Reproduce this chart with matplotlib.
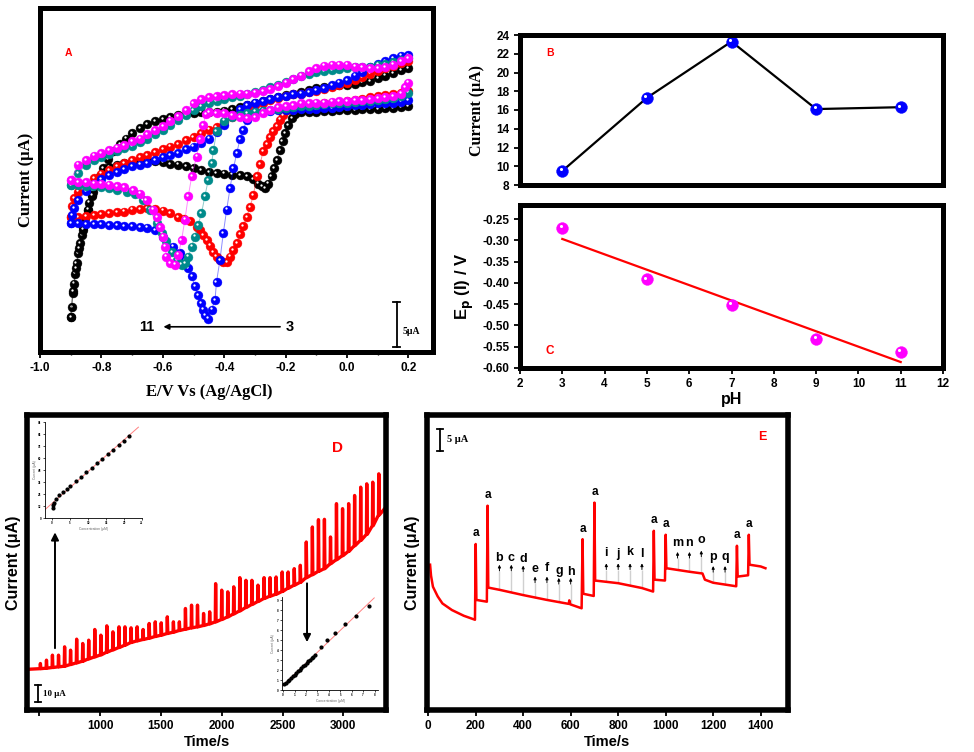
import numpy as np
import matplotlib.pyplot as plt
from matplotlib.ticker import FormatStrFormatter, AutoMinorLocator
from matplotlib.transforms import offset_copy

plt.rcParams['font.family'] = ['Liberation Sans', 'DejaVu Sans']
plt.rcParams['font.weight'] = 'bold'
plt.rcParams['axes.labelweight'] = 'bold'
plt.rcParams['mathtext.default'] = 'bf'

SERIF = ['Liberation Serif', 'DejaVu Serif']

# ---------------- Panel A: cyclic voltammograms (E in V, I in uA, arbitrary offset)
# forward = scan from -0.9 V to 0.2 V, reverse = back from 0.2 V to -0.9 V
black_fwd = [(-0.900, 3.9), (-0.897, 5.0), (-0.894, 6.5), (-0.890, 7.6), (-0.886, 8.7), (-0.881, 9.9),
             (-0.876, 11.0), (-0.870, 12.1), (-0.864, 13.0), (-0.859, 13.9), (-0.852, 14.9), (-0.845, 15.8),
             (-0.839, 16.6), (-0.832, 17.3), (-0.826, 17.8), (-0.816, 18.6), (-0.805, 19.5), (-0.794, 20.4),
             (-0.778, 21.4), (-0.760, 22.3), (-0.740, 23.1), (-0.720, 23.7), (-0.700, 24.3), (-0.675, 24.9),
             (-0.650, 25.3), (-0.625, 25.6), (-0.600, 25.9), (-0.575, 26.1), (-0.550, 26.3), (-0.525, 26.4),
             (-0.500, 26.5), (-0.475, 26.6), (-0.450, 26.7), (-0.425, 26.7), (-0.400, 26.8), (-0.375, 27.0),
             (-0.350, 27.2), (-0.325, 27.4), (-0.300, 27.6), (-0.275, 27.9), (-0.250, 28.1), (-0.225, 28.3),
             (-0.200, 28.5), (-0.175, 28.7), (-0.150, 28.9), (-0.125, 29.1), (-0.100, 29.3), (-0.075, 29.4),
             (-0.050, 29.5), (-0.025, 29.6), (0.000, 29.7), (0.025, 29.8), (0.050, 30.0), (0.075, 30.1),
             (0.100, 30.4), (0.125, 30.7), (0.150, 31.0), (0.175, 31.3), (0.200, 31.5)]
black_rev = [(0.200, 27.3), (0.175, 27.2), (0.150, 27.1), (0.125, 27.1), (0.100, 27.0), (0.075, 27.0),
             (0.050, 27.0), (0.025, 26.9), (0.000, 26.9), (-0.025, 26.9), (-0.050, 26.8), (-0.075, 26.8),
             (-0.100, 26.7), (-0.125, 26.7), (-0.150, 26.6), (-0.170, 26.4), (-0.180, 26.0), (-0.191, 25.2),
             (-0.202, 24.3), (-0.210, 23.4), (-0.218, 22.4), (-0.229, 21.3), (-0.238, 20.4), (-0.246, 19.5),
             (-0.256, 18.7), (-0.267, 18.2), (-0.278, 18.4), (-0.289, 18.7), (-0.305, 19.2), (-0.325, 19.5),
             (-0.350, 19.6), (-0.375, 19.7), (-0.400, 19.8), (-0.425, 19.9), (-0.450, 20.0), (-0.475, 20.2),
             (-0.500, 20.4), (-0.525, 20.6), (-0.550, 20.8), (-0.575, 20.9), (-0.600, 21.1), (-0.625, 21.2),
             (-0.650, 21.3), (-0.675, 21.2), (-0.700, 21.1), (-0.725, 21.0), (-0.750, 20.8), (-0.775, 20.5),
             (-0.795, 19.8), (-0.815, 18.6), (-0.830, 17.4), (-0.845, 15.8), (-0.860, 13.6), (-0.872, 11.5),
             (-0.882, 9.3), (-0.892, 6.8), (-0.900, 3.9)]
red_fwd = [(-0.900, 15.0), (-0.895, 16.2), (-0.890, 17.1), (-0.875, 17.8), (-0.850, 18.7), (-0.825, 19.3),
           (-0.800, 19.8), (-0.775, 20.2), (-0.750, 20.6), (-0.725, 21.0), (-0.700, 21.3), (-0.675, 21.6),
           (-0.650, 21.9), (-0.625, 22.2), (-0.600, 22.5), (-0.575, 22.8), (-0.550, 23.1), (-0.525, 23.5),
           (-0.500, 23.9), (-0.475, 24.3), (-0.450, 24.7), (-0.425, 25.0), (-0.400, 25.5), (-0.375, 26.1),
           (-0.350, 26.6), (-0.325, 27.1), (-0.300, 27.4), (-0.275, 27.7), (-0.250, 28.0), (-0.225, 28.2),
           (-0.200, 28.4), (-0.175, 28.6), (-0.150, 28.7), (-0.125, 28.9), (-0.100, 29.0), (-0.075, 29.2),
           (-0.050, 29.4), (-0.025, 29.7), (0.000, 29.9), (0.025, 30.2), (0.050, 30.5), (0.075, 30.9),
           (0.100, 31.2), (0.125, 31.5), (0.150, 31.8), (0.175, 32.1), (0.200, 32.3)]
red_rev = [(0.200, 29.0), (0.190, 29.2), (0.175, 28.8), (0.150, 28.6), (0.125, 28.5), (0.100, 28.4),
           (0.075, 28.3), (0.050, 28.1), (0.025, 28.0), (0.000, 27.9), (-0.025, 27.8), (-0.050, 27.7),
           (-0.075, 27.6), (-0.100, 27.5), (-0.125, 27.4), (-0.150, 27.3), (-0.175, 27.2), (-0.196, 26.9),
           (-0.207, 26.3), (-0.218, 25.8), (-0.229, 25.1), (-0.240, 24.5), (-0.251, 23.9), (-0.262, 23.1),
           (-0.273, 22.3), (-0.283, 20.9), (-0.294, 19.5), (-0.305, 17.4), (-0.316, 16.1), (-0.327, 15.0),
           (-0.338, 14.0), (-0.349, 13.1), (-0.359, 12.1), (-0.370, 11.3), (-0.381, 10.6), (-0.392, 10.0),
           (-0.403, 10.0), (-0.414, 10.2), (-0.425, 10.6), (-0.435, 11.1), (-0.446, 11.8), (-0.457, 12.4),
           (-0.468, 13.0), (-0.479, 13.6), (-0.490, 13.9), (-0.511, 14.5), (-0.530, 14.8), (-0.550, 15.0),
           (-0.575, 15.4), (-0.600, 15.7), (-0.625, 15.9), (-0.650, 16.0), (-0.675, 15.9), (-0.700, 15.8),
           (-0.725, 15.6), (-0.750, 15.5), (-0.775, 15.4), (-0.800, 15.3), (-0.825, 15.2), (-0.850, 15.1),
           (-0.875, 15.0), (-0.900, 15.0)]
blue_fwd = [(-0.900, 14.3), (-0.895, 15.2), (-0.890, 16.0), (-0.875, 16.9), (-0.850, 17.9), (-0.825, 18.7),
            (-0.800, 19.2), (-0.775, 19.6), (-0.750, 20.0), (-0.725, 20.3), (-0.700, 20.6), (-0.675, 20.8),
            (-0.650, 21.0), (-0.625, 21.3), (-0.600, 21.6), (-0.575, 21.9), (-0.550, 22.1), (-0.525, 22.5),
            (-0.500, 22.8), (-0.475, 23.2), (-0.450, 23.7), (-0.425, 24.4), (-0.400, 25.2), (-0.375, 26.3),
            (-0.350, 27.0), (-0.325, 27.4), (-0.300, 27.7), (-0.275, 27.9), (-0.250, 28.1), (-0.225, 28.3),
            (-0.200, 28.4), (-0.175, 28.6), (-0.150, 28.7), (-0.125, 28.9), (-0.100, 29.1), (-0.075, 29.3),
            (-0.050, 29.6), (-0.025, 29.9), (0.000, 30.2), (0.025, 30.7), (0.050, 31.1), (0.075, 31.6),
            (0.100, 32.0), (0.125, 32.3), (0.150, 32.6), (0.175, 32.9), (0.200, 33.0)]
blue_rev = [(0.200, 28.0), (0.175, 27.8), (0.150, 27.7), (0.125, 27.7), (0.100, 27.6), (0.075, 27.5),
            (0.050, 27.4), (0.025, 27.4), (0.000, 27.3), (-0.025, 27.2), (-0.050, 27.1), (-0.075, 27.1),
            (-0.100, 27.0), (-0.125, 27.0), (-0.150, 27.0), (-0.175, 26.9), (-0.200, 26.9), (-0.225, 26.9),
            (-0.250, 26.8), (-0.275, 26.8), (-0.300, 26.6), (-0.315, 26.3), (-0.327, 25.8), (-0.338, 24.6),
            (-0.349, 23.6), (-0.359, 22.1), (-0.370, 20.4), (-0.381, 18.2), (-0.392, 15.8), (-0.403, 13.2),
            (-0.414, 10.2), (-0.425, 7.8), (-0.430, 5.8), (-0.441, 4.7), (-0.452, 3.7), (-0.463, 4.1),
            (-0.468, 4.7), (-0.474, 5.4), (-0.484, 6.3), (-0.495, 7.3), (-0.506, 8.4), (-0.517, 9.3),
            (-0.528, 10.2), (-0.544, 11.0), (-0.566, 11.7), (-0.598, 12.8), (-0.625, 13.5), (-0.650, 13.8),
            (-0.675, 13.9), (-0.700, 14.0), (-0.725, 14.0), (-0.750, 14.1), (-0.775, 14.1), (-0.800, 14.2),
            (-0.825, 14.2), (-0.850, 14.2), (-0.875, 14.3), (-0.900, 14.3)]
teal_fwd = [(-0.900, 18.6), (-0.875, 19.9), (-0.850, 20.8), (-0.825, 21.3), (-0.800, 21.6), (-0.775, 22.0),
            (-0.750, 22.3), (-0.725, 22.6), (-0.700, 22.9), (-0.675, 23.3), (-0.650, 23.7), (-0.625, 24.2),
            (-0.600, 24.7), (-0.575, 25.2), (-0.550, 25.8), (-0.525, 26.3), (-0.500, 26.9), (-0.475, 27.3),
            (-0.450, 27.6), (-0.425, 27.9), (-0.400, 28.1), (-0.375, 28.3), (-0.350, 28.4), (-0.325, 28.6),
            (-0.300, 28.9), (-0.275, 29.1), (-0.250, 29.4), (-0.225, 29.7), (-0.200, 30.0), (-0.175, 30.3),
            (-0.150, 30.6), (-0.125, 30.9), (-0.100, 31.1), (-0.075, 31.2), (-0.050, 31.3), (-0.025, 31.4),
            (0.000, 31.5), (0.025, 31.6), (0.050, 31.6), (0.075, 31.7), (0.100, 31.9), (0.125, 32.0),
            (0.150, 32.2), (0.175, 32.4), (0.200, 32.6)]
teal_rev = [(0.200, 28.8), (0.175, 28.4), (0.150, 28.2), (0.125, 28.1), (0.100, 28.0), (0.075, 27.9),
            (0.050, 27.9), (0.025, 27.8), (0.000, 27.7), (-0.025, 27.6), (-0.050, 27.6), (-0.075, 27.5),
            (-0.100, 27.4), (-0.125, 27.3), (-0.150, 27.3), (-0.175, 27.2), (-0.200, 27.1), (-0.225, 27.0),
            (-0.250, 26.9), (-0.275, 26.8), (-0.300, 26.7), (-0.325, 26.5), (-0.350, 26.3), (-0.375, 26.1),
            (-0.400, 25.7), (-0.425, 24.5), (-0.435, 22.4), (-0.441, 21.0), (-0.452, 19.1), (-0.463, 17.3),
            (-0.474, 15.4), (-0.485, 14.1), (-0.496, 12.8), (-0.506, 11.7), (-0.517, 10.6), (-0.528, 9.9),
            (-0.539, 9.7), (-0.555, 10.2), (-0.571, 11.1), (-0.588, 12.3), (-0.604, 13.2), (-0.620, 14.3),
            (-0.642, 15.8), (-0.664, 16.9), (-0.690, 17.5), (-0.718, 17.8), (-0.750, 18.0), (-0.775, 18.2),
            (-0.800, 18.3), (-0.826, 18.4), (-0.850, 18.4), (-0.875, 18.5), (-0.900, 18.5)]
magenta_fwd = [(-0.900, 19.1), (-0.875, 20.8), (-0.850, 21.3), (-0.825, 21.8), (-0.800, 22.1), (-0.775, 22.4),
               (-0.750, 22.7), (-0.725, 23.0), (-0.700, 23.4), (-0.675, 23.7), (-0.650, 24.2), (-0.625, 24.6),
               (-0.600, 25.1), (-0.575, 25.7), (-0.550, 26.2), (-0.525, 26.9), (-0.500, 27.6), (-0.475, 28.1),
               (-0.450, 28.3), (-0.425, 28.4), (-0.400, 28.5), (-0.375, 28.6), (-0.350, 28.7), (-0.325, 28.7),
               (-0.300, 28.8), (-0.275, 29.0), (-0.250, 29.2), (-0.225, 29.5), (-0.200, 29.9), (-0.175, 30.3),
               (-0.150, 30.7), (-0.125, 31.2), (-0.100, 31.5), (-0.075, 31.8), (-0.050, 31.9), (-0.025, 31.9),
               (0.000, 31.9), (0.025, 31.7), (0.050, 31.6), (0.075, 31.5), (0.100, 31.5), (0.125, 31.6),
               (0.150, 31.9), (0.175, 32.3), (0.200, 32.6)]
magenta_rev = [(0.200, 29.9), (0.190, 29.4), (0.175, 28.7), (0.150, 28.4), (0.125, 28.3), (0.100, 28.2),
               (0.075, 28.1), (0.050, 28.0), (0.025, 28.0), (0.000, 27.9), (-0.025, 27.9), (-0.050, 27.8),
               (-0.075, 27.7), (-0.100, 27.7), (-0.125, 27.6), (-0.150, 27.6), (-0.175, 27.4), (-0.200, 27.3),
               (-0.225, 27.2), (-0.250, 26.9), (-0.275, 26.5), (-0.300, 26.1), (-0.325, 26.0), (-0.350, 26.1),
               (-0.375, 26.3), (-0.400, 26.5), (-0.425, 26.5), (-0.450, 26.6), (-0.460, 26.4), (-0.468, 25.2),
               (-0.479, 23.6), (-0.490, 21.7), (-0.506, 19.5), (-0.517, 17.3), (-0.528, 14.7), (-0.539, 12.4),
               (-0.550, 10.8), (-0.560, 9.7), (-0.577, 9.9), (-0.588, 10.6), (-0.593, 11.7), (-0.598, 12.8),
               (-0.609, 13.9), (-0.620, 15.0), (-0.631, 15.8), (-0.653, 16.9), (-0.675, 17.6), (-0.696, 18.0),
               (-0.725, 18.3), (-0.750, 18.4), (-0.775, 18.6), (-0.800, 18.7), (-0.825, 18.7), (-0.850, 18.9),
               (-0.875, 18.9), (-0.900, 19.1)]

# ---------------- Panels B and C: pH dependence
ph_values = [3, 5, 7, 9, 11]
peak_current_uA = [9.5, 17.3, 23.3, 16.1, 16.3]
peak_potential_V = [-0.270, -0.392, -0.452, -0.531, -0.562]

# ---------------- Panel D: successive additions (time in s, current in uA)
d_start = (400, 24.4)
d_end = (3350, 121.8)
d_inject_t = [507, 557, 606, 656, 706, 755, 805, 855, 904, 954, 1004, 1053, 1103, 1153, 1202, 1252,
              1302, 1351, 1401, 1451, 1500, 1550, 1600, 1649, 1699, 1749, 1798, 1848, 1898, 1947,
              1997, 2047, 2096, 2146, 2196, 2245, 2295, 2345, 2394, 2444, 2494, 2543, 2593, 2643,
              2692, 2742, 2792, 2841, 2891, 2940, 2990, 3040, 3089, 3139, 3189, 3238, 3288]
d_base = [24.8, 25.1, 25.5, 25.9, 26.3, 27.3, 28.3, 29.3, 30.7, 31.9, 33.1, 34.7, 36.1, 37.5, 38.9, 40.5,
          41.5, 42.3, 43.1, 44.1, 44.9, 45.9, 46.7, 47.7, 48.5, 49.3, 49.9, 50.7, 51.7, 52.9,
          54.3, 55.9, 57.7, 59.5, 61.5, 63.3, 65.1, 66.9, 68.3, 69.5, 71.1, 73.1, 74.9, 76.6,
          79.4, 81.2, 83.2, 84.8, 87.8, 90.2, 92.6, 95.2, 98.6, 101.8, 105.4, 110.6, 117.0]
d_top = [27.9, 29.9, 32.9, 32.9, 37.9, 35.9, 42.5, 39.9, 41.9, 48.3, 44.9, 50.5, 46.9, 49.9, 49.9, 49.3,
         49.9, 48.3, 51.9, 52.9, 52.3, 55.9, 52.9, 52.9, 60.9, 62.9, 62.9, 57.9, 58.9, 75.8,
         71.9, 70.9, 73.9, 79.4, 77.8, 77.8, 74.9, 79.4, 79.4, 79.8, 82.8, 82.8, 84.8, 86.8,
         100.8, 109.8, 114.2, 114.4, 103.8, 123.8, 120.8, 123.8, 128.7, 133.7, 135.7, 136.7, 141.7]

# insets of panel D (calibration plots)
cal1_conc = [0.1, 0.3, 0.5, 1, 2, 3, 4, 5, 6.5, 8, 9.5, 11, 12.5, 14, 15.5, 17, 18.5, 20, 21.5]
cal1_curr = [10, 13, 15, 19, 23, 26, 29, 32, 37, 41, 46, 50, 55, 59, 64, 68, 73, 77, 82]
cal2_conc = [0.1, 0.25, 0.4, 0.55, 0.7, 0.85, 1.0, 1.15, 1.3, 1.45, 1.6, 1.75, 1.9, 2.05, 2.2, 2.35,
             2.5, 2.65, 2.8, 3.29, 3.86, 4.57, 5.43, 6.37, 7.51]
cal2_curr = [0.6, 0.75, 0.9, 1.05, 1.25, 1.4, 1.55, 1.75, 1.9, 2.05, 2.2, 2.4, 2.55, 2.7, 2.9, 3.05,
             3.2, 3.35, 3.5, 4.27, 5.0, 5.67, 6.6, 7.4, 8.4]

# ---------------- Panel E: interference study
e_time = [8, 12, 20, 40, 60, 100, 150, 197,
          200, 203, 247,
          250, 253, 300, 400, 500, 592, 594, 598, 646,
          650, 653, 697,
          700, 703, 800, 900, 947,
          950, 953, 997,
          1000, 1003, 1100, 1155, 1165, 1200, 1297,
          1300, 1303, 1347,
          1350, 1353, 1400, 1420]
e_current = [33.0, 30.5, 28.0, 25.8, 24.2, 22.7, 21.4, 20.5,
             37.7, 25.0, 24.6,
             46.4, 27.8, 27.3, 26.1, 25.0, 24.1, 24.9, 24.0, 23.1,
             38.8, 26.4, 25.9,
             47.1, 29.4, 28.8, 27.7, 26.9,
             40.7, 29.6, 29.4,
             39.8, 32.2, 31.4, 31.0, 29.6, 28.9, 28.1,
             37.3, 30.3, 30.6,
             39.8, 33.0, 32.6, 32.2]
e_spike_t = [200, 250, 650, 700, 950, 1000, 1300, 1350]
e_letters = ['b', 'c', 'd', 'e', 'f', 'g', 'h', 'i', 'j', 'k', 'l', 'm', 'n', 'o', 'p', 'q']
e_letter_t = [300, 350, 400, 450, 500, 550, 600, 750, 800, 850, 900, 1050, 1100, 1150, 1200, 1250]
# label / arrow heights (annotation placement)
e_letter_y = [34.5, 34.5, 34.3, 32.0, 32.2, 31.6, 31.3, 35.6, 35.5, 35.8, 35.4, 37.9, 37.9, 38.5, 34.7, 34.7]
e_arrow_y = [32.3, 32.3, 32.1, 29.6, 29.6, 29.3, 29.3, 32.6, 32.6, 32.6, 32.6, 35.2, 35.2, 35.5, 32.0, 32.0]

W, H = 974, 752
fig = plt.figure(figsize=(W / 100, H / 100), dpi=100)
BOLD = 'bold'


def add_px_axes(left, top, width, height):
    return fig.add_axes([left / W, 1 - (top + height) / H, width / W, height / H])


def thick_frame(ax, lw=3.6):
    for s in ax.spines.values():
        s.set_linewidth(lw)


def bold_ticks(ax):
    for lab in ax.get_xticklabels() + ax.get_yticklabels():
        lab.set_fontweight(BOLD)


def balls(ax, x, y, color, ms=6.4, lw=0.7):
    # glossy "ball" markers joined by a thin line, highlight shifted up-left
    ax.plot(x, y, '-', color=color, lw=lw, alpha=0.45)
    ax.plot(x, y, 'o', ls='none', ms=ms, mfc=color, mec=color, mew=0.3)
    shine = offset_copy(ax.transData, fig=fig, x=-ms * 0.12, y=ms * 0.14, units='points')
    ax.plot(x, y, 'o', ls='none', ms=ms * 0.26, mfc='white', mec='none', transform=shine)


def scale_bar(ax, x, y0, y1, cap):
    ax.plot([x, x], [y0, y1], color='k', lw=1.3)
    ax.plot([x - cap, x + cap], [y0, y0], color='k', lw=1.3)
    ax.plot([x - cap, x + cap], [y1, y1], color='k', lw=1.3)


# ---------------- A
axA = add_px_axes(40, 8, 393, 344)
cv_sets = [(black_fwd, black_rev, 'black'), (red_fwd, red_rev, '#ff0000'), (blue_fwd, blue_rev, '#0000ff'),
           (teal_fwd, teal_rev, '#008b8b'), (magenta_fwd, magenta_rev, '#ff00ff')]
for fwd, rev, col in cv_sets:
    for branch in (fwd, rev):
        e, i = np.array(branch).T
        balls(axA, e, i, col)
axA.set_xlim(-1.0, 0.28)
axA.set_ylim(0, 38.2)
axA.set_xticks([-1.0, -0.8, -0.6, -0.4, -0.2, 0.0, 0.2])
axA.xaxis.set_major_formatter(FormatStrFormatter('%.1f'))
axA.xaxis.set_minor_locator(AutoMinorLocator(2))
axA.set_yticks([])
axA.tick_params(axis='x', which='major', direction='out', length=4, width=1.3, labelsize=8.5)
axA.tick_params(axis='x', which='minor', direction='out', length=2.5, width=1.0)
bold_ticks(axA)
axA.set_xlabel('E/V Vs (Ag/AgCl)', family=SERIF, fontsize=12, fontweight=BOLD)
axA.xaxis.set_label_coords(0.43, -0.092)
axA.set_ylabel('Current (\u03bcA)', family=SERIF, fontsize=12, fontweight=BOLD, labelpad=4)
thick_frame(axA)
axA.text(-0.908, 33.2, 'A', color='red', fontsize=7.5, ha='center', va='center')
axA.annotate('', xy=(-0.598, 2.8), xytext=(-0.218, 2.8),
             arrowprops=dict(arrowstyle='-|>', lw=1.2, color='k', mutation_scale=8, shrinkA=0, shrinkB=0))
axA.text(-0.653, 2.8, '11', fontsize=10.5, fontweight=BOLD, ha='center', va='center')
axA.text(-0.188, 2.8, '3', fontsize=10.5, fontweight=BOLD, ha='center', va='center')
scale_bar(axA, 0.162, 0.6, 5.6, 0.012)
axA.text(0.180, 2.3, '5\u03bcA', family=SERIF, fontsize=7, fontweight=BOLD, ha='left', va='center')

# ---------------- B
axB = add_px_axes(520, 35, 423, 150)
axB.plot(ph_values, peak_current_uA, '-', color='k', lw=1.6)
balls(axB, ph_values, peak_current_uA, '#0000ff', ms=8.5, lw=0)
axB.set_xlim(2, 12)
axB.set_ylim(8, 24)
axB.set_yticks(np.arange(8, 25, 2))
axB.tick_params(axis='x', bottom=False, labelbottom=False)
axB.tick_params(axis='y', direction='out', length=4, width=1.3, labelsize=8.5)
bold_ticks(axB)
axB.set_ylabel('Current (\u03bcA)', family=SERIF, fontsize=11.5, fontweight=BOLD, labelpad=8)
thick_frame(axB)
axB.text(2.7, 22.1, 'B', color='red', fontsize=7.5, ha='center', va='center')

# ---------------- C
axC = add_px_axes(520, 205, 423, 163)
slope, intercept = np.polyfit(ph_values, peak_potential_V, 1)
fit_x = np.array([ph_values[0], ph_values[-1]])
axC.plot(fit_x, slope * fit_x + intercept, '-', color='#ff0000', lw=1.6)
balls(axC, ph_values, peak_potential_V, '#ff00ff', ms=8.5, lw=0)
axC.set_xlim(2, 12)
axC.set_ylim(-0.60, -0.217)
axC.set_xticks(range(2, 13))
axC.set_yticks([-0.60, -0.55, -0.50, -0.45, -0.40, -0.35, -0.30, -0.25])
axC.yaxis.set_major_formatter(FormatStrFormatter('%.2f'))
axC.tick_params(direction='out', length=4, width=1.3, labelsize=8.5)
bold_ticks(axC)
axC.set_xlabel('pH', fontsize=11.5, fontweight=BOLD, labelpad=1)
axC.set_ylabel(r'E$_{p}$ (I) / V', fontsize=12, fontweight=BOLD, labelpad=5)
thick_frame(axC)
axC.text(2.7, -0.561, 'C', color='red', fontsize=8.5, ha='center', va='center')

# ---------------- D
axD = add_px_axes(27, 415, 359, 295)
d_t = [d_start[0]]
d_i = [d_start[1]]
for t, base, top in zip(d_inject_t, d_base, d_top):
    d_t += [t, t + 3, t + 7]
    d_i += [base, top, base]
d_t.append(d_end[0])
d_i.append(d_end[1])
axD.plot(d_t, d_i, '-', color='#ff0000', lw=2.4)
axD.set_xlim(400, 3350)
axD.set_ylim(0, 177)
axD.set_xticks([500, 1000, 1500, 2000, 2500, 3000])
axD.set_xticklabels(['', '1000', '1500', '2000', '2500', '3000'])
axD.set_yticks([])
axD.tick_params(axis='x', direction='out', length=4, width=1.3, labelsize=8.5)
bold_ticks(axD)
axD.set_xlabel('Time/s', fontsize=10.5, fontweight=BOLD, labelpad=2)
axD.set_ylabel('Current (\u03bcA)', fontsize=11.5, fontweight=BOLD, labelpad=4)
thick_frame(axD, 4)
axD.text(2948, 157, 'D', color='red', fontsize=11, ha='center', va='center')
scale_bar(axD, 490, 4.8, 14.8, 25)
axD.text(530, 9.8, '10 \u03bcA', family=SERIF, fontsize=6.5, fontweight=BOLD, ha='left', va='center')
axD.annotate('', xy=(630, 106.6), xytext=(630, 37.1),
             arrowprops=dict(arrowstyle='-|>', lw=1.4, color='k', mutation_scale=11, shrinkA=0, shrinkB=0))
axD.annotate('', xy=(2701, 40.7), xytext=(2701, 76.0),
             arrowprops=dict(arrowstyle='-|>', lw=1.4, color='k', mutation_scale=11, shrinkA=0, shrinkB=0))

for box, cx, cy, xlim, ylim, xt, yt in [
        ((45, 422, 97, 96), cal1_conc, cal1_curr, (-2, 25), (0, 96), range(0, 26, 5), range(0, 97, 12)),
        ((282, 597, 96, 93), cal2_conc, cal2_curr, (-0.1, 8.3), (0, 9.3), range(0, 9), range(0, 10))]:
    ins = add_px_axes(*box)
    ins.set_facecolor('none')
    k, b = np.polyfit(cx, cy, 1)
    lx = np.array(xlim)
    ins.plot(lx * 0.96, k * lx * 0.96 + b, '-', color='#ff8080', lw=0.7)
    ins.plot(cx, cy, 'o', ls='none', ms=2, color='k')
    ins.set_xlim(*xlim)
    ins.set_ylim(*ylim)
    ins.set_xticks(list(xt))
    ins.set_yticks(list(yt))
    ins.tick_params(direction='out', length=1.5, width=0.5, labelsize=2.2, pad=1)
    for s in ('top', 'right'):
        ins.spines[s].set_visible(False)
    for s in ('left', 'bottom'):
        ins.spines[s].set_linewidth(0.6)
    ins.set_ylabel('Current (\u03bcA)', fontsize=2.4, fontweight='normal', color='0.4', labelpad=1)
    ins.set_xlabel('Concentration (\u03bcM)', fontsize=2.4, fontweight='normal', color='0.4', labelpad=1)

# ---------------- E
axE = add_px_axes(427, 415, 361, 295)
axE.plot(e_time, e_current, '-', color='#ff0000', lw=1.8)
for t in e_spike_t:
    axE.text(t, np.interp(t, e_time, e_current) + 2.4, 'a', fontsize=8.5, fontweight=BOLD,
             ha='center', va='center')
for lab, t, ly, ay in zip(e_letters, e_letter_t, e_letter_y, e_arrow_y):
    base = np.interp(t, e_time, e_current)
    axE.vlines(t, base, ay - 0.7, color='#d0d0d0', lw=1.0, zorder=1)
    axE.annotate('', xy=(t, ay + 0.7), xytext=(t, ay - 0.7),
                 arrowprops=dict(arrowstyle='-|>', lw=0.7, color='k', mutation_scale=4, shrinkA=0, shrinkB=0))
    axE.text(t, ly, lab, fontsize=9, fontweight=BOLD, ha='center', va='center')
axE.set_xlim(-5, 1515)
axE.set_ylim(0, 67)
axE.set_xticks(range(0, 1401, 200))
axE.set_yticks([])
axE.tick_params(axis='x', direction='out', length=4, width=1.3, labelsize=8.5)
bold_ticks(axE)
axE.set_xlabel('Time/s', fontsize=10.5, fontweight=BOLD, labelpad=2)
axE.set_ylabel('Current (\u03bcA)', fontsize=11.5, fontweight=BOLD, labelpad=5)
thick_frame(axE, 4)
axE.text(1407, 62, 'E', color='red', fontsize=9, ha='center', va='center')
scale_bar(axE, 50, 58.9, 63.9, 12)
axE.text(80, 61.5, '5 \u03bcA', family=SERIF, fontsize=7.5, fontweight=BOLD, ha='left', va='center')

fig.savefig('out.png', dpi=100)
